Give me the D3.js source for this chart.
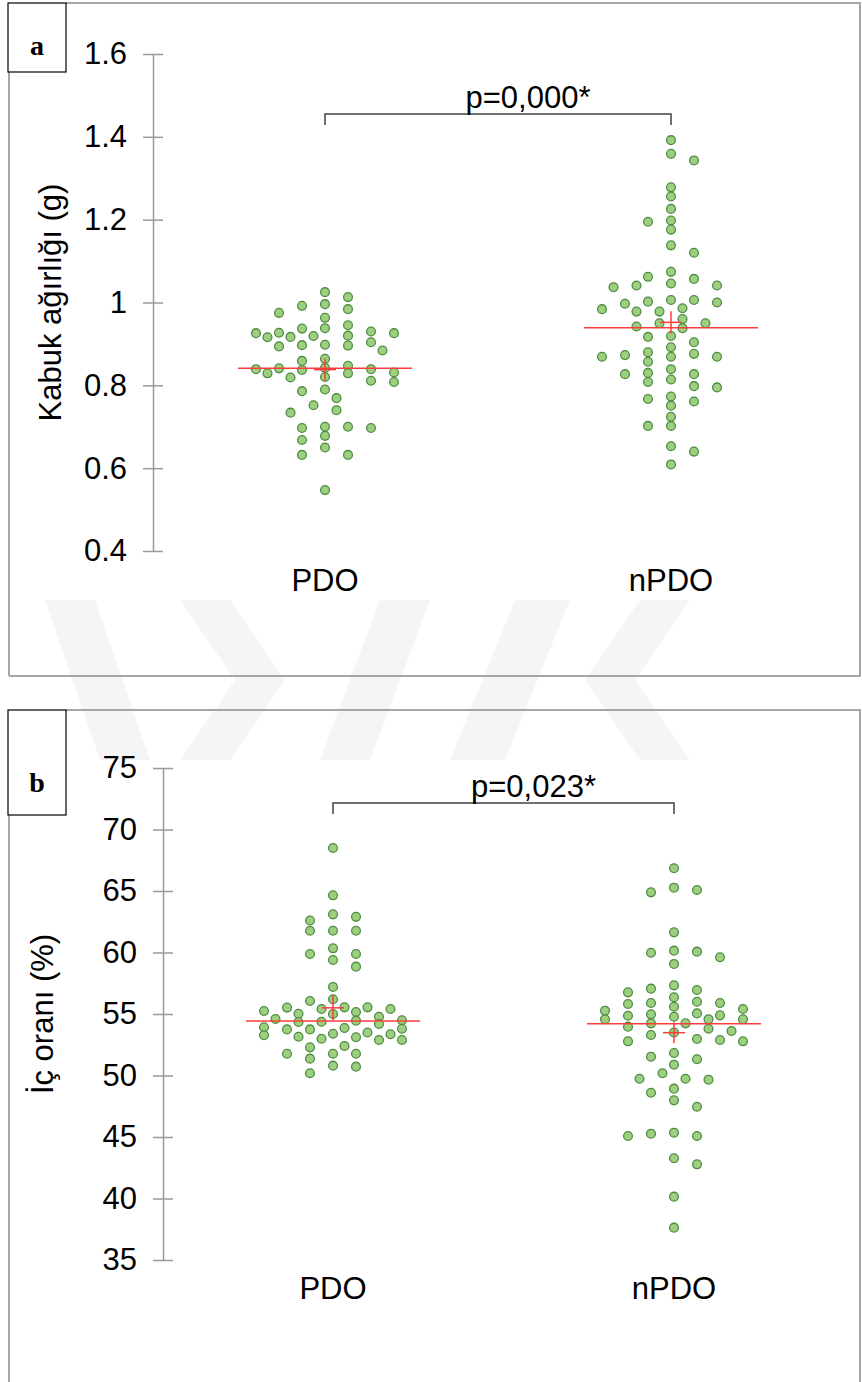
<!DOCTYPE html>
<html>
<head>
<meta charset="utf-8">
<script src="https://cdn.jsdelivr.net/npm/d3@7"></script>
<style>
  body { margin: 0; background: #fff; }
  svg { display: block; font-family: "Liberation Sans", Arial, sans-serif; }
</style>
</head>
<body>
<div id="chart"></div>
<script>
// values
const categories = ["PDO", "nPDO"];

const shellPDO = [1.025, 1.013, 0.996, 0.992, 0.984, 0.975, 0.963, 0.945, 0.937, 0.938,
    0.926, 0.920, 0.927, 0.930, 0.926, 0.916, 0.919, 0.917, 0.894, 0.898,
    0.896, 0.904, 0.897, 0.884, 0.864, 0.859, 0.847, 0.837, 0.839, 0.841,
    0.829, 0.831, 0.829, 0.842, 0.839, 0.820, 0.811, 0.808, 0.819, 0.790,
    0.786, 0.769, 0.752, 0.740, 0.734, 0.697, 0.700, 0.700, 0.697, 0.678,
    0.668, 0.650, 0.632, 0.632, 0.547];
const shellNPDO = [1.392, 1.359, 1.343, 1.278, 1.256, 1.226, 1.195, 1.198, 1.176, 1.138,
    1.120, 1.062, 1.074, 1.057, 1.041, 1.046, 1.041, 1.037, 1.000, 1.006,
    0.997, 1.006, 1.002, 0.978, 0.984, 0.986, 0.978, 0.960, 0.950, 0.950,
    0.942, 0.938, 0.917, 0.919, 0.904, 0.892, 0.869, 0.873, 0.880, 0.857,
    0.869, 0.876, 0.869, 0.839, 0.830, 0.827, 0.827, 0.814, 0.808, 0.798,
    0.795, 0.773, 0.767, 0.761, 0.751, 0.724, 0.702, 0.702, 0.653, 0.640,
    0.609];
const innerPDO = [68.5, 64.65, 63.1, 62.9, 62.6, 61.77, 61.77, 61.77, 60.34, 59.88,
    59.88, 59.39, 58.85, 57.2, 56.06, 56.2, 55.41, 55.54, 55.16, 55.0,
    55.52, 55.24, 55.54, 55.02, 55.41, 54.59, 54.78, 54.35, 54.46, 54.49,
    54.37, 54.19, 53.92, 53.86, 53.75, 53.8, 53.75, 53.5, 53.39, 53.27,
    53.35, 53.15, 52.89, 52.99, 53.11, 52.89, 52.29, 52.4, 51.77, 51.37,
    51.77, 51.77, 50.72, 50.8, 50.18];
const innerNPDO = [66.85, 65.08, 64.89, 65.27, 61.64, 60.07, 59.61, 59.98, 60.15, 59.07,
    56.95, 57.33, 57.06, 56.76, 56.36, 55.81, 55.89, 56.0, 55.89, 55.41,
    55.59, 55.27, 54.57, 54.78, 54.89, 55.05, 54.97, 54.86, 54.57, 54.57,
    54.24, 54.24, 53.8, 53.97, 53.5, 53.62, 53.29, 52.97, 52.78, 52.89,
    52.78, 51.83, 51.32, 51.53, 50.88, 50.18, 49.74, 49.74, 49.66, 48.93,
    48.6, 47.98, 47.46, 45.08, 45.35, 45.27, 45.08, 43.27, 42.78, 40.15,
    37.63];

const shellMedian = [0.841, 0.939];
const shellMean = [0.838, 0.952];
const shellCI = [0.027, 0.027];
const innerMedian = [54.43, 54.21];
const innerMean = [55.5, 53.48];
const innerCI = [1.0, 0.85];

const shellTicks = [0.4, 0.6, 0.8, 1, 1.2, 1.4, 1.6];
const innerTicks = [35, 40, 45, 50, 55, 60, 65, 70, 75];

const width = 862, height = 1382;

const svg = d3.select("#chart").append("svg")
    .attr("width", width)
    .attr("height", height);

// faint watermark behind everything
const wm = svg.append("g").attr("fill", "#f5f5f5");
[
    [[45, 600], [95, 600], [150, 760], [100, 760]],
    [[180, 600], [230, 600], [285, 680], [230, 760], [180, 760], [235, 680]],
    [[320, 760], [370, 760], [430, 600], [380, 600]],
    [[450, 760], [505, 760], [570, 600], [515, 600]],
    [[690, 600], [640, 600], [585, 680], [640, 760], [690, 760], [635, 680]]
].forEach(p => wm.append("polygon").attr("points", p.join(" ")));

// greedy beeswarm with a capped half-width; overlaps allowed when the row is full
function swarm(values, y, center) {
    const sx = 22, sy = 9, step = 11.5, maxN = 6;
    const order = d3.range(values.length).sort((i, j) => d3.descending(values[i], values[j]));
    const placed = [];
    let flip = 1;
    order.forEach(i => {
        const py = y(values[i]);
        const cands = [0];
        for (let n = 1; n <= maxN; n++) cands.push(flip * n * step, -flip * n * step);
        const cost = c => d3.max(placed, p => 1 - (((p.x - c) / sx) ** 2 + ((p.y - py) / sy) ** 2)) ?? -1;
        let px = cands.find(c => cost(c) <= 0);
        if (px === undefined) px = d3.least(cands, c => cost(c));
        if (px !== 0) flip = -flip;
        placed.push({x: px, y: py});
    });
    return placed.map(p => ({cx: center + p.x, cy: p.y}));
}

function panel(o) {
    const g = svg.append("g");

    // frame
    const frame = g.append("g").attr("stroke", "#a6a6a6").attr("stroke-width", 2).attr("fill", "none");
    frame.append("line").attr("x1", o.box[2]).attr("x2", 861).attr("y1", o.frameTop).attr("y2", o.frameTop);
    frame.append("line").attr("x1", 9).attr("x2", 9).attr("y1", o.box[3]).attr("y2", o.frameBottom);
    frame.append("line").attr("x1", 860).attr("x2", 860).attr("y1", o.frameTop).attr("y2", o.frameBottom);
    if (o.frameBottom < height)
        frame.append("line").attr("x1", 9).attr("x2", 861).attr("y1", o.frameBottom).attr("y2", o.frameBottom);

    g.append("rect")
        .attr("x", o.box[0]).attr("y", o.box[1])
        .attr("width", o.box[2] - o.box[0]).attr("height", o.box[3] - o.box[1])
        .attr("fill", "#fff").attr("stroke", "#000").attr("stroke-width", 1.2);
    g.append("text")
        .attr("x", (o.box[0] + o.box[2]) / 2).attr("y", o.labelY)
        .attr("text-anchor", "middle")
        .style("font-family", "'Liberation Serif', 'Times New Roman', serif")
        .style("font-weight", "bold").style("font-size", "28px")
        .text(o.label);

    const y = d3.scaleLinear().domain(o.domain).range(o.yRange);
    const x = d3.scalePoint().domain(categories).range(o.xRange);

    const axis = g.append("g")
        .attr("transform", `translate(${o.axisX},0)`)
        .call(d3.axisLeft(y).tickValues(o.ticks).tickSizeInner(10).tickSizeOuter(0).tickPadding(16)
            .tickFormat(d3.format("")));
    axis.select(".domain").attr("stroke", "#9a9a9a").attr("stroke-width", 1.5);
    axis.selectAll(".tick line").attr("x1", -10).attr("x2", 10).attr("stroke", "#9a9a9a").attr("stroke-width", 1.5);
    axis.selectAll(".tick text").attr("fill", "#000")
        .style("font-family", "'Liberation Sans', Arial, sans-serif").style("font-size", "31px");

    g.selectAll(".cat").data(categories).join("text")
        .attr("x", d => x(d)).attr("y", o.catY)
        .attr("text-anchor", "middle")
        .style("font-size", "31px")
        .text(d => d);

    g.append("text")
        .attr("transform", `translate(${o.titleX},${(o.yRange[0] + o.yRange[1]) / 2}) rotate(-90)`)
        .attr("dy", "0.35em")
        .attr("text-anchor", "middle")
        .style("font-size", "31px")
        .text(o.title);

    // dots
    o.series.forEach((vals, i) => {
        g.append("g").selectAll("circle").data(swarm(vals, y, x(categories[i]))).join("circle")
            .attr("cx", d => d.cx).attr("cy", d => d.cy).attr("r", 4.4)
            .attr("fill", "#9ccf7f").attr("stroke", "#4f8c42").attr("stroke-width", 1.3);
    });

    // median lines and mean crosses
    const red = g.append("g").attr("stroke", "#ff3b3b").attr("stroke-width", 1.5);
    categories.forEach((c, i) => {
        red.append("line").attr("x1", x(c) - 87).attr("x2", x(c) + 87)
            .attr("y1", y(o.median[i])).attr("y2", y(o.median[i]));
        red.append("line").attr("x1", x(c) - 11).attr("x2", x(c) + 11)
            .attr("y1", y(o.mean[i])).attr("y2", y(o.mean[i]));
        red.append("line").attr("x1", x(c)).attr("x2", x(c))
            .attr("y1", y(o.mean[i] + o.ci[i])).attr("y2", y(o.mean[i] - o.ci[i]));
    });

    // significance bracket
    const bx0 = x(categories[0]), bx1 = x(categories[1]);
    g.append("path")
        .attr("d", `M${bx0},${o.bracketY + 11}V${o.bracketY}H${bx1}V${o.bracketY + 11}`)
        .attr("fill", "none").attr("stroke", "#404040").attr("stroke-width", 1.5);
    g.append("text")
        .attr("x", (bx0 + bx1) / 2 + 30).attr("y", o.bracketY - 6)
        .attr("text-anchor", "middle")
        .style("font-size", "31px")
        .text(o.p);
}

panel({
    label: "a", box: [8, 3, 66, 72], labelY: 55,
    frameTop: 3, frameBottom: 676,
    domain: [0.4, 1.6], yRange: [551, 54], ticks: shellTicks,
    axisX: 153, xRange: [325, 671], catY: 591, titleX: 50,
    title: "Kabuk ağırlığı (g)",
    series: [shellPDO, shellNPDO],
    median: shellMedian, mean: shellMean, ci: shellCI,
    bracketY: 114, p: "p=0,000*"
});

panel({
    label: "b", box: [8, 710, 66, 815], labelY: 792,
    frameTop: 710, frameBottom: height + 2,
    domain: [35, 75], yRange: [1260, 768], ticks: innerTicks,
    axisX: 163, xRange: [333, 674], catY: 1299, titleX: 42,
    title: "İç oranı (%)",
    series: [innerPDO, innerNPDO],
    median: innerMedian, mean: innerMean, ci: innerCI,
    bracketY: 803, p: "p=0,023*"
});
</script>
</body>
</html>
